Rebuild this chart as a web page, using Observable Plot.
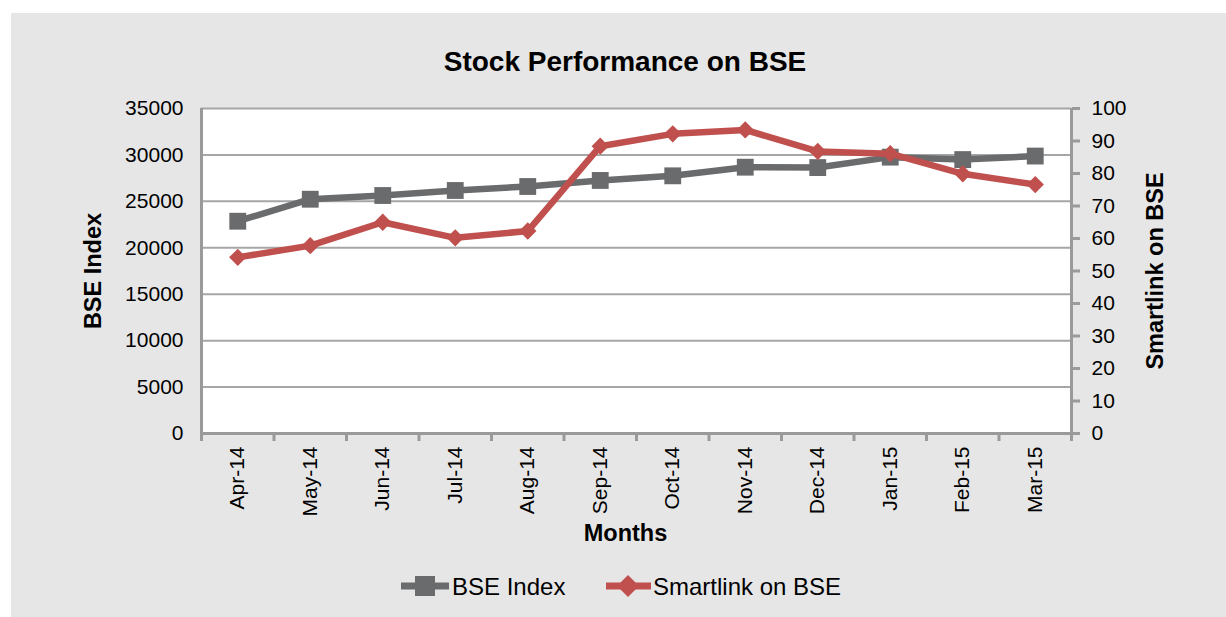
<!DOCTYPE html>
<html>
<head>
<meta charset="utf-8">
<script src="https://cdn.jsdelivr.net/npm/d3@7"></script>
<script src="https://cdn.jsdelivr.net/npm/@observablehq/plot@0.6"></script>
<style>
html, body { margin: 0; padding: 0; background: #ffffff; }
#wrap { position: relative; width: 1226px; height: 617px; overflow: hidden; font-family: "Liberation Sans", Arial, sans-serif; color: #000; }
#bg { position: absolute; left: 11px; top: 13px; right: 0; bottom: 0; background: #e6e6e6; }
#title { position: absolute; left: 325px; width: 600px; top: 48px; text-align: center; font-size: 28px; line-height: 28px; font-weight: bold; }
#chart { position: absolute; left: 0; top: 90px; }
.leg { position: absolute; top: 574px; height: 24px; }
.legtext { position: absolute; top: 575px; font-size: 24px; line-height: 24px; white-space: nowrap; }
</style>
</head>
<body>
<div id="wrap">
  <div id="bg"></div>
  <div id="title">Stock Performance on BSE</div>
  <div id="chart"></div>
  <svg class="leg" style="left:398px" width="54" height="24">
    <line x1="3" x2="51" y1="12" y2="12" stroke="#6a6b6d" stroke-width="7"></line>
    <rect x="17" y="2" width="20" height="20" fill="#6a6b6d"></rect>
  </svg>
  <div class="legtext" style="left:452px">BSE Index</div>
  <svg class="leg" style="left:604px" width="50" height="24">
    <line x1="2" x2="47" y1="12" y2="12" stroke="#c0504d" stroke-width="7"></line>
    <path d="M24,1 L35,12 L24,23 L13,12 Z" fill="#c0504d"></path>
  </svg>
  <div class="legtext" style="left:653px">Smartlink on BSE</div>
</div>
<script>
const months = ["Apr-14","May-14","Jun-14","Jul-14","Aug-14","Sep-14","Oct-14","Nov-14","Dec-14","Jan-15","Feb-15","Mar-15"];
const bseIndex = [22860, 25230, 25630, 26170, 26600, 27250, 27750, 28680, 28640, 29760, 29500, 29880];
const smartlink = [54.2, 57.8, 65.0, 60.2, 62.3, 88.4, 92.2, 93.4, 86.8, 86.1, 79.9, 76.6];
const leftTicks = [0, 5000, 10000, 15000, 20000, 25000, 30000, 35000];
const rightTicks = [0, 10, 20, 30, 40, 50, 60, 70, 80, 90, 100];

const ratio = 35000 / 100; // right axis (0-100) mapped onto the left scale (0-35000)
const rows = months.map((m, i) => ({month: m, xi: i + 0.5, bse: bseIndex[i], smart: smartlink[i] * ratio}));
const boundaries = d3.range(months.length + 1);
const centers = months.map((m, i) => i + 0.5);

const axisGray = "#9a9a9a";
const chart = Plot.plot({
  width: 1226,
  height: 465,
  marginTop: 18,
  marginLeft: 201,
  marginRight: 155,
  marginBottom: 122,
  style: {background: "transparent", fontFamily: "'Liberation Sans', Arial, sans-serif", fontSize: "21px", color: "#000", overflow: "visible"},
  x: {type: "linear", domain: [0, months.length], axis: null},
  y: {domain: [0, 35000], axis: null},
  marks: [
    Plot.frame({fill: "white", stroke: "none"}),
    Plot.ruleY(leftTicks.filter(d => d > 0), {stroke: "#a6a6a6", strokeWidth: 2}),
    Plot.axisX({ticks: boundaries, tickFormat: () => "", tickSize: 8, stroke: axisGray, strokeWidth: 3, label: null}),
    Plot.axisX({ticks: centers, tickFormat: d => months[Math.floor(d)], tickSize: 0, tickPadding: 13, tickRotate: -90, label: null, fill: "#000"}),
    Plot.axisY({ticks: leftTicks, tickSize: 0, tickPadding: 18, tickFormat: d => String(d), label: null, fill: "#000"}),
    Plot.axisY({anchor: "right", ticks: rightTicks.map(v => v * ratio), tickFormat: d => String(Math.round(d / ratio)), tickSize: 8, tickPadding: 12, stroke: axisGray, strokeWidth: 3, label: null, fill: "#000"}),
    Plot.ruleX([0, months.length], {stroke: axisGray, strokeWidth: 3}),
    Plot.ruleY([0], {stroke: axisGray, strokeWidth: 3}),
    Plot.line(rows, {x: "xi", y: "bse", stroke: "#6a6b6d", strokeWidth: 6.5}),
    Plot.dot(rows, {x: "xi", y: "bse", symbol: "square", r: 9.5, fill: "#6a6b6d", stroke: "none"}),
    Plot.line(rows, {x: "xi", y: "smart", stroke: "#c0504d", strokeWidth: 6.5}),
    Plot.dot(rows, {x: "xi", y: "smart", symbol: d3.symbolDiamond2, r: 7.8, fill: "#c0504d", stroke: "none"}),
    Plot.text(["BSE Index"], {text: d => d, frameAnchor: "left", dx: -108, rotate: -90, textAnchor: "middle", lineAnchor: "middle", fontWeight: "bold", fontSize: 23.5, fill: "#000"}),
    Plot.text(["Smartlink on BSE"], {text: d => d, frameAnchor: "right", dx: 84, rotate: -90, textAnchor: "middle", lineAnchor: "middle", fontWeight: "bold", fontSize: 23.5, fill: "#000"}),
    Plot.text(["Months"], {text: d => d, frameAnchor: "bottom", dx: -11, dy: 100, textAnchor: "middle", lineAnchor: "middle", fontWeight: "bold", fontSize: 23.5, fill: "#000"})
  ]
});
document.getElementById("chart").appendChild(chart);
</script>
</body>
</html>
